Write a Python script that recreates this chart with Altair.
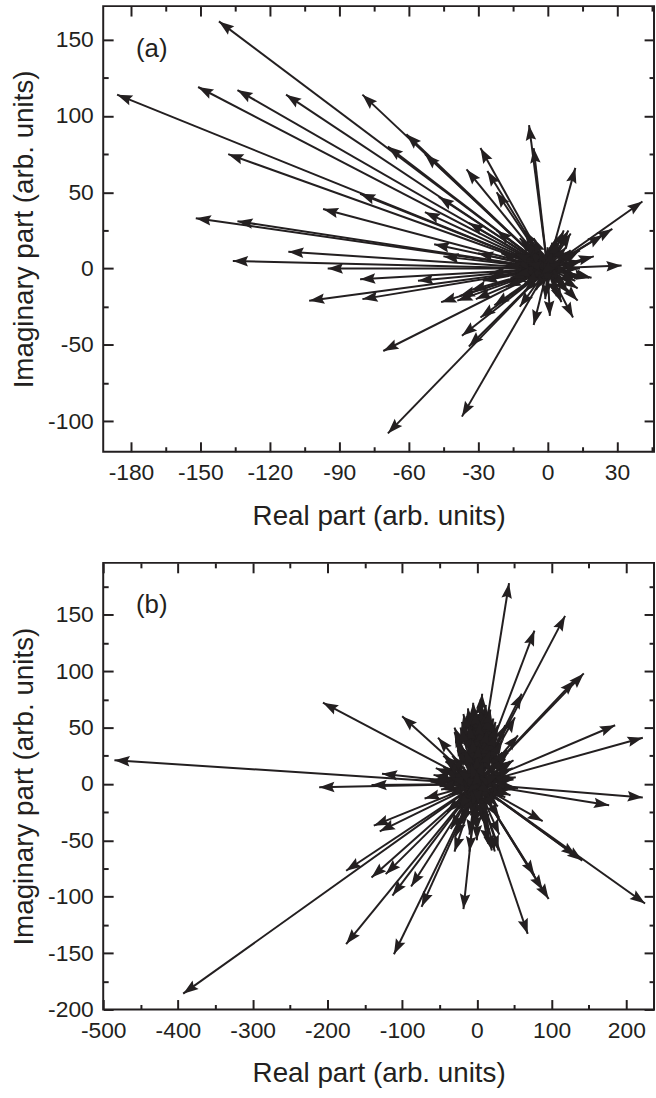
import math
import altair as alt
import pandas as pd

INK = "#231f20"
FONT = "Liberation Sans"

# ---------------- panel (a) data: vector tips (real, imaginary) ----------------
a_re = [-142, -186, -151, -134, -113, -80, -61, -69, -53, -29, -8, -6, 12, -35, -26,
        -22, -47, -81, -138, -97, -53, -34, 41, 28, 32, 19, -152, -134, -112, -136,
        -49, -45, -95, -81, -56, -103, -80, -46, -39, -31, -16, -37, -29, -71, -34,
        -37, -69, -6, 1, 11, 13, 9, 9, 4, 7, 10, 2, 0, 18, 13,
        -20, -15, -25, -18, -10, 5, 15, 20, 10, -5, -12, -22, -10, 3, -3, 14, -30,
        -28, 6, -12, -38, -33, -23, 24,
        -12, -8, -4, 4, 8, 10, 6, -2, -8, -12, -14, 12, -6, 3, -10, 6, -16, 14, 0, -4,
        -14, -10, -6, -2, 2, 5, 8, 12, 14, 12, 8, 4, -1, -5, -10, -14, -18, -9, 6, -3]
a_im = [162, 114, 119, 117, 114, 114, 88, 80, 75, 79, 94, 79, 66, 65, 64,
        50, 47, 49, 75, 39, 37, 30, 44, 26, 2, -6, 33, 31, 11, 5,
        16, 8, 0, -7, -8, -21, -20, -22, -21, -20, -9, -44, -32, -54, -51,
        -97, -108, -37, -31, -32, -21, -16, 25, 21, 25, 23, 17, 14, -6, -13,
        10, 5, -3, -12, -15, -10, 5, 8, 12, 10, 20, 25, 25, 8, -8, 12, 10,
        -8, -22, -25, -18, -14, -24, 22,
        8, 12, 14, 10, 6, -2, -8, -10, -6, -2, 4, 4, 4, -4, 16, 16, -6, -6, -12, 6,
        10, 18, 20, 8, 12, 18, 14, 10, 0, -8, -12, -18, -20, -14, -10, -4, 2, 4, 4, -4]

# ---------------- panel (b) data ----------------
b_re = [43, 118, 77, 143, 185, 222, -206, -100, -485, -52, -30, 7, -12, -4, 16,
        60, 38, 55, 49, -127, -60, -211, -141, 222, 177, 88, 141, 225, 96, 88,
        68, -18, 29, 15, -30, -2, -70, -138, -130, -175, -141, -122, -88, -113, -74,
        -175, -111, -393, 33, -4, 20, -29, 131, 51, 133, 77, 24, -22, -9, 49,
        -8, -3, 3, 8, 12, -15, 20, -20, 25, 30, -35, -40, -25, 35, 40, -15, 10, 20,
        -30, 0, 5, -10, 15, -45, 45, 25, -5, 12, -50, -20, 30, 0, -10, 10,
        -14, -10, -6, -2, 2, 6, 10, 14, 18, 22, -18, -4, 4, 8, 12, -8, 0, 16, 26, 30,
        -22, -26, 34, 38, -30, -36, 40, 44, -40, -34, 38, 30, -25, -18, -8, 6, 14, 22,
        -12, 12, -15, 20, 0, -5, 8, 25, -20,
        -45, -42, -38, -33, -28, -24, -20, -16, -12, -6, -2, 2, 6, 10, 14, 18, 22, 26,
        30, 34, 38, 42, 46, -48, -36, -26, -14, -6, 2, 12, 20, 28, -18, -10, 4, 16,
        -30, 8, -8, 0,
        -58, -55, -50, -62, 52, 55, 48, 45, -40, -45, 40, -35, 30, -10, 15, 0, -22, 28,
        -5, 5, 18]
b_im = [178, 149, 136, 98, 52, 41, 72, 60, 21, 41, 46, 80, 67, 62, 66,
        80, 52, 43, 4, 9, 4, -3, -1, -12, -19, -33, -68, -106, -102, -94,
        -133, -111, -59, -53, -60, -37, -13, -37, -42, -77, -83, -80, -91, -99, -109,
        -142, -151, -186, 3, -32, -59, -47, 92, 59, -64, -81, -60, -35, 62, 21,
        55, 58, 60, 57, 50, 48, 45, 30, 30, 20, 20, 10, 5, 10, -5, -20, -25, -15,
        -20, 40, 30, 35, 35, 15, 20, 55, 70, 70, 5, -35, -30, -50, -60, 45,
        60, 63, 65, 58, 62, 66, 60, 56, 52, 48, 50, 50, 52, 45, 40, 40, 45, 38, 40, 35,
        35, 30, 28, 22, 15, 10, 12, 6, 2, -5, -5, -15, -18, -25, -28, -30, -28, -22,
        -12, 10, 20, 25, 25, -15, -10, 5, 5,
        12, 20, -10, 25, 38, -22, 55, 30, 45, 40, 65, 35, 50, 62, 48, 30, 58, 45,
        8, 38, -12, 28, -2, -5, 5, 12, -8, -20, -18, -38, -8, -20, 62, 52, 56, 60,
        50, 20, 18, 12,
        8, 14, -2, 2, 6, -4, 14, -10, -25, 25, 30, -40, -45, -45, -40, -42, 50, 52,
        72, 75, 66]

A_X_DOMAIN = [-192, 46]
A_Y_DOMAIN = [-120, 172]
B_X_DOMAIN = [-500, 237]
B_Y_DOMAIN = [-200, 196]

A_X_MAJOR = [-180, -150, -120, -90, -60, -30, 0, 30]
A_X_MINOR = [-165, -135, -105, -75, -45, -15, 15, 45]
A_Y_MAJOR = [-100, -50, 0, 50, 100, 150]
A_Y_MINOR = [-75, -25, 25, 75, 125]
B_X_MAJOR = [-500, -400, -300, -200, -100, 0, 100, 200]
B_X_MINOR = [-450, -350, -250, -150, -50, 50, 150]
B_Y_MAJOR = [-200, -150, -100, -50, 0, 50, 100, 150]
B_Y_MINOR = [-175, -125, -75, -25, 25, 75, 125, 175]

W = 555
HA = 449
HB = 450

# arrowhead with its tip at the symbol origin, pointing up
ARROW = "M0,0 L0.55,1.6 L0,1.35 L-0.55,1.6 Z"


def ax(orient, vals, size, labels=False, title=None, title_pad=18):
    kw = dict(orient=orient, values=vals, tickSize={"expr": str(-size)},
              tickColor=INK, tickWidth=2, domain=False, grid=False,
              labels=labels, ticks=True, title=title)
    if labels:
        kw.update(labelFont=FONT, labelFontSize=23, labelColor=INK,
                  labelPadding=20, labelFlush=False, labelOverlap=False,
                  labelExpr="toString(datum.value)")
    if title:
        kw.update(titleFont=FONT, titleFontSize=28, titleFontWeight="normal",
                  titleColor=INK, titlePadding=title_pad)
    return alt.Axis(**kw)


def panel(re, im, xdom, ydom, xmaj, xmin, ymaj, ymin, tag, h):
    kx = W / (xdom[1] - xdom[0])
    ky = h / (ydom[1] - ydom[0])
    ang = [(math.degrees(math.atan2(kx * r, ky * i)) + 360) % 360 for r, i in zip(re, im)]
    df = pd.DataFrame({"x0": [0.0] * len(re), "y0": [0.0] * len(re),
                       "re": re, "im": im, "ang": ang})
    xs = alt.Scale(domain=xdom, nice=False, zero=False)
    ys = alt.Scale(domain=ydom, nice=False, zero=False)
    base = alt.Chart(df)
    shafts = base.mark_rule(color=INK, strokeWidth=2).encode(
        x=alt.X("x0:Q", scale=xs,
                axis=ax("bottom", xmaj, 10, True, "Real part (arb. units)", 18)),
        x2="re:Q",
        y=alt.Y("y0:Q", scale=ys,
                axis=ax("left", ymaj, 10, True, "Imaginary part (arb. units)", 9)),
        y2="im:Q",
    )
    heads = base.mark_point(shape=ARROW, filled=True, size=370, color=INK,
                            opacity=1, strokeWidth=0).encode(
        x=alt.X("re:Q", scale=xs, axis=ax("top", xmaj, 10)),
        y=alt.Y("im:Q", scale=ys, axis=ax("right", ymaj, 10)),
        angle=alt.Angle("ang:Q", scale=None),
    )
    minor1 = base.mark_point(opacity=0).encode(
        x=alt.X("re:Q", scale=xs, axis=ax("bottom", xmin, 5)),
        y=alt.Y("im:Q", scale=ys, axis=ax("left", ymin, 5)),
    )
    minor2 = base.mark_point(opacity=0).encode(
        x=alt.X("re:Q", scale=xs, axis=ax("top", xmin, 5)),
        y=alt.Y("im:Q", scale=ys, axis=ax("right", ymin, 5)),
    )
    label = alt.Chart(pd.DataFrame({"t": [tag]})).mark_text(
        align="left", baseline="middle", font=FONT, fontSize=26, color=INK
    ).encode(text="t:N", x=alt.value(33), y=alt.value(43))
    return alt.layer(shafts, heads, minor1, minor2, label).resolve_axis(
        x="independent", y="independent"
    ).properties(width=W, height=h)


pa = panel(a_re, a_im, A_X_DOMAIN, A_Y_DOMAIN, A_X_MAJOR, A_X_MINOR,
           A_Y_MAJOR, A_Y_MINOR, "(a)", HA)
pb = panel(b_re, b_im, B_X_DOMAIN, B_Y_DOMAIN, B_X_MAJOR, B_X_MINOR,
           B_Y_MAJOR, B_Y_MINOR, "(b)", HB)

chart = alt.vconcat(pa, pb, spacing=30).configure_view(
    stroke=INK, strokeWidth=2
).properties(padding={"left": 9, "top": 0, "right": 0, "bottom": 0})

chart.save("out.html", embed_options={"renderer": "svg", "actions": False})
